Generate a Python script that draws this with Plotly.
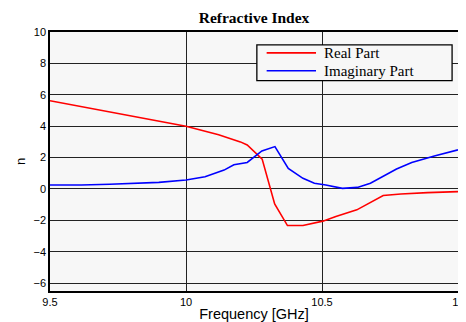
import plotly.graph_objects as go

red_f = [9.5, 9.6, 9.68, 9.8, 9.9, 10.0, 10.12, 10.2, 10.225, 10.28, 10.326, 10.373, 10.43, 10.503, 10.551, 10.628, 10.725, 10.79, 10.888, 11.0]
red_n = [5.62, 5.3, 5.0, 4.64, 4.32, 4.0, 3.45, 3.0, 2.8, 1.9, -0.95, -2.33, -2.33, -2.05, -1.75, -1.33, -0.42, -0.32, -0.23, -0.17]

blue_f = [9.5, 9.615, 9.72, 9.83, 9.9, 10.0, 10.07, 10.14, 10.176, 10.225, 10.279, 10.327, 10.376, 10.43, 10.472, 10.514, 10.575, 10.63, 10.678, 10.774, 10.83, 10.913, 11.0]
blue_n = [0.25, 0.25, 0.3, 0.4, 0.42, 0.57, 0.78, 1.2, 1.54, 1.69, 2.42, 2.7, 1.31, 0.68, 0.36, 0.25, 0.04, 0.1, 0.36, 1.27, 1.69, 2.1, 2.49]

series_names = ["Real Part", "Imaginary Part"]
series_colors = ["#ff0000", "#0000ff"]

x_ticks = [9.5, 10, 10.5, 11]
x_tick_text = ["9.5", "10", "10.5", "11"]
y_ticks = [-6, -4, -2, 0, 2, 4, 6, 8, 10]

fig = go.Figure()
fig.add_trace(go.Scatter(x=red_f, y=red_n, mode="lines", name=series_names[0],
                         line=dict(color=series_colors[0], width=1.6)))
fig.add_trace(go.Scatter(x=blue_f, y=blue_n, mode="lines", name=series_names[1],
                         line=dict(color=series_colors[1], width=1.6)))

# Manual legend box (matches original boxed legend)
shapes = [dict(type="rect", xref="paper", yref="paper", x0=0.507, x1=0.9855, y0=0.812, y1=0.950,
               line=dict(color="black", width=1.3), fillcolor="#f7f7f7", layer="above")]
annotations = []
legend_y = [0.9195, 0.8506]
for name, col, ly in zip(series_names, series_colors, legend_y):
    shapes.append(dict(type="line", xref="paper", yref="paper", x0=0.531, x1=0.652, y0=ly, y1=ly,
                       line=dict(color=col, width=1.6), layer="above"))
    annotations.append(dict(xref="paper", yref="paper", x=0.667, y=ly, xanchor="left", yanchor="middle",
                            text=name, showarrow=False,
                            font=dict(family="Liberation Serif", size=15, color="black")))

fig.update_layout(
    width=466, height=322,
    margin=dict(l=42, r=10, t=24, b=37),
    paper_bgcolor="white",
    plot_bgcolor="#f7f7f7",
    title=dict(text="<b>Refractive Index</b>", xref="paper", x=0.5, xanchor="center",
               yref="container", y=0.969, yanchor="middle",
               font=dict(family="Liberation Serif", size=15.5, color="black")),
    showlegend=False,
    shapes=shapes,
    annotations=annotations,
    font=dict(family="Liberation Sans", size=11, color="black"),
)
fig.update_xaxes(range=[9.5, 11], tickvals=x_ticks, ticktext=x_tick_text,
                 showgrid=True, gridcolor="#222", gridwidth=1, zeroline=False,
                 showline=True, linecolor="black", linewidth=1.5, mirror=True,
                 ticks="", tickfont=dict(size=11),
                 title=dict(text="Frequency [GHz]", font=dict(size=14.5), standoff=2))
fig.update_yaxes(range=[-6.5, 10], tickvals=y_ticks,
                 showgrid=True, gridcolor="#222", gridwidth=1, zeroline=False,
                 showline=True, linecolor="black", linewidth=1.5, mirror=True,
                 ticks="", tickfont=dict(size=11),
                 title=dict(text="n", font=dict(size=13), standoff=5))

fig.write_html("out.html")
